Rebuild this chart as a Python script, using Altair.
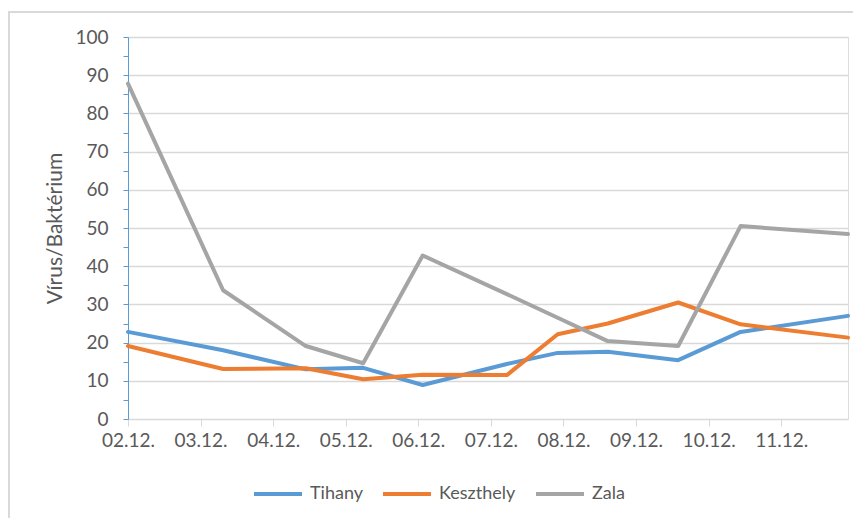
import altair as alt
import pandas as pd

# ---- data ----
day_labels = ["02.12.", "03.12.", "04.12.", "05.12.", "06.12.",
              "07.12.", "08.12.", "09.12.", "10.12.", "11.12."]
# sampling positions in days after 02.12.
x_days = [0, 1.31, 2.45, 3.24, 4.06, 5.22, 5.92, 6.61, 7.58, 8.44, 9.92]
series_names = ["Tihany", "Keszthely", "Zala"]
tihany = [22.8, 18.0, 13.0, 13.4, 8.9, 14.4, 17.3, 17.6, 15.4, 22.8, 27.0]
keszthely = [19.1, 13.1, 13.3, 10.4, 11.6, 11.5, 22.2, 25.0, 30.5, 24.8, 21.3]
zala = [87.8, 33.7, 19.1, 14.6, 42.8, 32.7, 26.5, 20.4, 19.1, 50.5, 48.4]
colors = ["#5B9BD5", "#ED7D31", "#A5A5A5"]
y_ticks = list(range(0, 101, 5))

rows = []
for name, vals in zip(series_names, [tihany, keszthely, zala]):
    for i, (x, v) in enumerate(zip(x_days, vals)):
        rows.append({"day": x, "value": v, "series": name, "order": i})
df = pd.DataFrame(rows)

label_js = "[" + ",".join(f"'{l}'" for l in day_labels) + "]"
FONT = "Lato"
TXT = "#595959"

lines = alt.Chart(df).mark_line(
    strokeWidth=4, strokeJoin="round", strokeCap="round"
).encode(
    x=alt.X(
        "day:Q",
        scale=alt.Scale(domain=[0, 9.92], nice=False, zero=False),
        axis=alt.Axis(
            values=list(range(len(day_labels))),
            labelExpr=f"{label_js}[datum.value]",
            title=None, grid=False, tickSize=7, tickColor="#d9d9d9",
            domainColor="#d9d9d9", domainWidth=1, labelPadding=5,
            labelFontSize=19, labelColor=TXT, labelFont=FONT,
            labelFlush=False, labelOverlap=False,
        ),
    ),
    y=alt.Y(
        "value:Q",
        scale=alt.Scale(domain=[0, 100], nice=False),
        axis=alt.Axis(
            values=y_ticks,
            labelExpr="datum.value % 10 === 0 ? datum.label : ''",
            title="Vírus/Baktérium", titleFontSize=21, titleFont=FONT,
            titleColor=TXT, titleFontWeight="normal", titlePadding=9,
            gridColor="#d9d9d9", gridWidth=1.5,
            gridOpacity={"condition": {"test": "datum.value % 10 === 0", "value": 1}, "value": 0},
            domainColor="#5B9BD5", tickColor="#5B9BD5", tickSize=5,
            labelPadding=15, labelFontSize=19, labelColor=TXT, labelFont=FONT,
            labelOverlap=False,
        ),
    ),
    color=alt.Color(
        "series:N",
        scale=alt.Scale(domain=series_names, range=colors),
        legend=alt.Legend(
            orient="none", legendX=124, legendY=431, direction="horizontal",
            title=None, symbolType="stroke", symbolSize=2304,
            symbolStrokeWidth=4, labelFontSize=18, labelColor=TXT,
            labelFont=FONT, columnPadding=12, labelOffset=6, padding=0,
        ),
    ),
    order="order:Q",
)

frame_df = pd.DataFrame({"k": [0]})
border_left = alt.Chart(frame_df).mark_rule(color="#d9d9d9", strokeWidth=2).encode(
    x=alt.value(-119), y=alt.value(-26), y2=alt.value(481)
)
border_top = alt.Chart(frame_df).mark_rule(color="#d9d9d9", strokeWidth=2).encode(
    x=alt.value(-120), x2=alt.value(725), y=alt.value(-25)
)

chart = alt.layer(border_left, border_top, lines).properties(
    width=720, height=382,
    autosize=alt.AutoSizeParams(type="none"),
    padding={"left": 120, "top": 29, "right": 5, "bottom": 99},
).configure_view(stroke=None).configure(font=FONT)

chart.save("out.html", embed_options={"renderer": "svg", "actions": False})
